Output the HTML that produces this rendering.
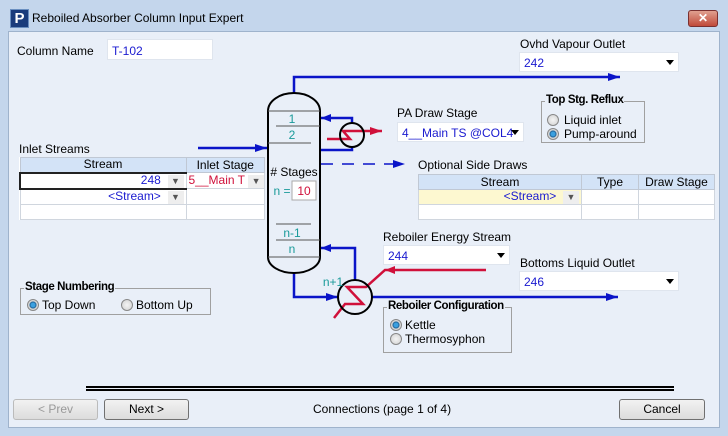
<!DOCTYPE html>
<html><head><meta charset="utf-8"><style>
*{box-sizing:border-box;margin:0;padding:0}
body{width:728px;height:436px;overflow:hidden;background:#c4d6ec;font-family:"Liberation Sans",sans-serif;font-size:12px;color:#000;position:relative}
.a{position:absolute;white-space:nowrap}
.client{position:absolute;left:8px;top:31px;width:712px;height:397px;background:#e9eff8;border:1px solid #9fb3cc}
.box{position:absolute;background:#fff;border:1px solid #dfe5ee;white-space:nowrap}
.blue{color:#1a1ad0}
.dd{position:absolute;width:0;height:0;border-left:4px solid transparent;border-right:4px solid transparent;border-top:5px solid #000}
.grp{position:absolute;border:1px solid #a0a0a0}
.grp .t{position:absolute;top:-8px;left:3px;background:#e9eff8;padding:0 1px;font-weight:bold;font-size:11.5px;letter-spacing:-0.4px;white-space:nowrap}
.rad{position:absolute;width:12px;height:12px;border-radius:50%;border:1px solid #888;background:radial-gradient(#f4f4f4,#d0d0d0)}
.rad.on{background:radial-gradient(#3aa0e0 0 2px,#1a5f96 3px,#d8d8d8 4px)}
.btn{position:absolute;height:21px;border:1px solid #707070;border-radius:3px;background:linear-gradient(#f2f2f2,#dcdcdc);text-align:center;line-height:19px}
table{border-collapse:collapse;position:absolute;background:#fff;table-layout:fixed}
td{border:1px solid #d0d6de;height:15px;padding:0 2px;font-size:12px;line-height:13px;overflow:hidden;white-space:nowrap}
th{font-weight:normal;background:#d3e3f7;border:1px solid #c0c8d4;height:15px;font-size:12px;line-height:13px}
.ar{display:inline-block;width:16px;text-align:center;background:#eee;color:#555;font-size:9px}
</style></head><body>
<div class="a" style="left:10px;top:9px;width:19px;height:19px;background:#1a3c7c;border:1px solid #6a8fc0;color:#fff;font-weight:bold;font-size:15px;text-align:center;line-height:17px">P</div>
<div class="a" style="left:32px;top:11px;font-size:12px">Reboiled Absorber Column Input Expert</div>
<div class="a" style="left:688px;top:10px;width:30px;height:17px;border:1px solid #7a3030;border-radius:3px;background:linear-gradient(#e0a090,#c04a3a);color:#fff;font-weight:bold;text-align:center;line-height:15px">✕</div>
<div class="client"></div>

<div class="a" style="left:17px;top:44px">Column Name</div>
<div class="box blue" style="left:107px;top:39px;width:106px;height:21px;padding:4px 4px">T-102</div>

<div class="a" style="left:520px;top:37px">Ovhd Vapour Outlet</div>
<div class="box blue" style="left:519px;top:52px;width:160px;height:20px;padding:3px 4px">242</div><div class="dd" style="left:666px;top:60px"></div>

<div class="a" style="left:19px;top:142px">Inlet Streams</div>
<table style="left:19px;top:157px;width:246px">
<tr><th style="width:166px">Stream</th><th>Inlet Stage</th></tr>
<tr><td style="text-align:right;border:2px solid #222;border-right:1px solid #d0d6de"><span class="blue">248</span>&nbsp;&nbsp;<span class="ar">▼</span></td><td style="color:#d0103a">5__Main T <span class="ar">▼</span></td></tr>
<tr><td style="text-align:right"><span class="blue">&lt;Stream&gt;</span>&nbsp;&nbsp;<span class="ar">▼</span></td><td></td></tr>
<tr><td></td><td></td></tr>
</table>

<div class="grp" style="left:20px;top:288px;width:191px;height:27px"><span class="t">Stage Numbering</span></div>
<div class="rad on" style="left:27px;top:299px"></div><div class="a" style="left:42px;top:298px">Top Down</div>
<div class="rad" style="left:121px;top:299px"></div><div class="a" style="left:136px;top:298px">Bottom Up</div>

<div class="a" style="left:397px;top:106px">PA Draw Stage</div>
<div class="box blue" style="left:397px;top:122px;width:127px;height:20px;padding:3px 4px">4__Main TS @COL4</div><div class="dd" style="left:511px;top:130px"></div>

<div class="grp" style="left:541px;top:101px;width:104px;height:42px"><span class="t">Top Stg. Reflux</span></div>
<div class="rad" style="left:547px;top:114px"></div><div class="a" style="left:564px;top:113px">Liquid inlet</div>
<div class="rad on" style="left:547px;top:128px"></div><div class="a" style="left:564px;top:127px">Pump-around</div>

<div class="a" style="left:418px;top:158px">Optional Side Draws</div>
<table style="left:418px;top:174px;width:297px">
<tr><th style="width:163px">Stream</th><th style="width:57px">Type</th><th>Draw Stage</th></tr>
<tr><td style="text-align:right;background:#fdf8d0"><span class="blue">&lt;Stream&gt;</span>&nbsp;&nbsp;<span class="ar">▼</span></td><td></td><td></td></tr>
<tr><td></td><td></td><td></td></tr>
</table>

<div class="a" style="left:383px;top:230px">Reboiler Energy Stream</div>
<div class="box blue" style="left:383px;top:245px;width:127px;height:20px;padding:3px 4px">244</div><div class="dd" style="left:497px;top:253px"></div>

<div class="a" style="left:520px;top:256px">Bottoms Liquid Outlet</div>
<div class="box blue" style="left:519px;top:271px;width:160px;height:20px;padding:3px 4px">246</div><div class="dd" style="left:666px;top:279px"></div>

<div class="grp" style="left:383px;top:307px;width:129px;height:46px"><span class="t">Reboiler Configuration</span></div>
<div class="rad on" style="left:390px;top:319px"></div><div class="a" style="left:405px;top:318px">Kettle</div>
<div class="rad" style="left:390px;top:333px"></div><div class="a" style="left:405px;top:332px">Thermosyphon</div>

<svg class="a" style="left:0;top:0" width="728" height="436" viewBox="0 0 728 436">
<g fill="none" stroke-width="2.5">
<path d="M294 93V77H620" stroke="#0a14c8"/>
<path d="M198 148H267" stroke="#0a14c8"/>
<path d="M321 118H352V123M352 147V150H321" stroke="#0a14c8"/>
<path d="M321 164H405" stroke="#0a14c8" stroke-width="1.6" stroke-dasharray="12,9"/>
<path d="M294 273V297H338M372 297H618M355 280V248H321" stroke="#0a14c8"/>
<path d="M327 139H350L343 131H382" stroke="#d0103a"/>
<path d="M486 270H385L366 287H347L363 304H345L334 318" stroke="#d0103a"/>
</g>
<g fill="#0a14c8">
<path d="M620 77l-12-4v8z"/><path d="M267 148l-12-4v8z"/><path d="M321 118l10-4v8z"/>
<path d="M405 164l-12-4v8z"/><path d="M338 297l-12-4v8z"/><path d="M321 248l10-4v8z"/><path d="M618 297l-12-4v8z"/>
</g>
<g fill="#d0103a"><path d="M382 131l-12-4v8z"/><path d="M385 270l10-4v8z"/></g>
<path d="M268 111A26 18 0 0 1 320 111V257A26 16 0 0 1 268 257Z" fill="#e9eff8" stroke="#000" stroke-width="2"/>
<g stroke="#555" stroke-width="1">
<path d="M268 111H320M276 126H320M268 143H311M276 224H311M276 240H320M268 257H320"/>
</g>
<circle cx="352" cy="135" r="12" fill="none" stroke="#000" stroke-width="2"/>
<circle cx="355" cy="297" r="17" fill="none" stroke="#000" stroke-width="2"/>
<g font-family="Liberation Sans" font-size="12" fill="#1a9a9a" text-anchor="middle">
<text x="292" y="123">1</text><text x="292" y="139">2</text><text x="292" y="237">n-1</text><text x="292" y="253">n</text>
<text x="333" y="286">n+1</text><text x="282" y="195">n =</text>
</g>
<text x="294" y="176" font-family="Liberation Sans" font-size="12" text-anchor="middle">#&#160;Stages</text>
<rect x="292" y="181" width="24" height="19" fill="#fff" stroke="#aaa"/>
<text x="304" y="195" font-family="Liberation Sans" font-size="12" fill="#d0103a" text-anchor="middle">10</text>
<path d="M86 387H674M86 390H674" stroke="#000" stroke-width="2"/>
</svg>

<div class="btn" style="left:13px;top:399px;width:85px;color:#999;border-color:#bbb">&lt; Prev</div>
<div class="btn" style="left:104px;top:399px;width:85px">Next &gt;</div>
<div class="a" style="left:313px;top:402px">Connections (page 1 of 4)</div>
<div class="btn" style="left:619px;top:399px;width:86px">Cancel</div>
</body></html>
